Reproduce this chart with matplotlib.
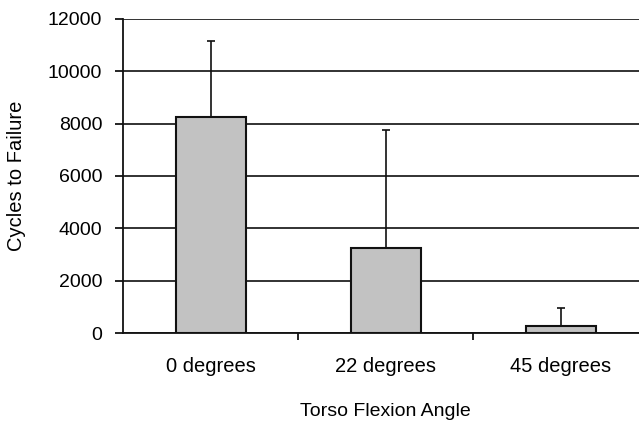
import matplotlib.pyplot as plt
import numpy as np

plt.rcParams['font.family'] = ['Liberation Sans', 'DejaVu Sans']

categories = ["0 degrees", "22 degrees", "45 degrees"]
cycles = [8250, 3250, 270]
err_upper = [2900, 4500, 680]
y_ticks = [0, 2000, 4000, 6000, 8000, 10000, 12000]

fig = plt.figure(figsize=(6.39, 4.21), dpi=100)
ax = fig.add_axes([123 / 639, 88 / 421, 525 / 639, 314 / 421])

x = np.arange(len(categories))
ax.bar(x, cycles, width=0.4, color="#c2c2c2", edgecolor="#111111",
       linewidth=1.5, zorder=3)
ax.errorbar(x, cycles, yerr=[[0] * len(x), err_upper], fmt="none",
            ecolor="#111111", elinewidth=1.2, capsize=3, capthick=1.2, zorder=4)

ax.set_xlim(-0.5, 2.5)
ax.set_ylim(0, 12000)
ax.set_yticks(y_ticks)
ax.yaxis.grid(True, color="#222222", linewidth=1.3, zorder=0)
ax.set_axisbelow(True)

ax.set_xticks(x)
ax.set_xticklabels(categories, fontsize=14.5)
ax.set_xticks([0.5, 1.5], minor=True)
ax.tick_params(axis="x", which="major", length=0, pad=17)
ax.tick_params(axis="x", which="minor", length=5, width=1.2, direction="out")
ax.tick_params(axis="y", length=6, width=1.2, labelsize=14, pad=9)

for s in ["top", "right"]:
    ax.spines[s].set_visible(False)
for s in ["left", "bottom"]:
    ax.spines[s].set_linewidth(1.3)
    ax.spines[s].set_color("#111111")

ax.set_xlabel("Torso Flexion Angle", fontsize=14)
ax.xaxis.set_label_coords(0.5, -0.222)
ax.set_ylabel("Cycles to Failure", fontsize=14.5)
ax.yaxis.set_label_coords(-0.184, 0.5)

fig.savefig("out.png", dpi=100)
